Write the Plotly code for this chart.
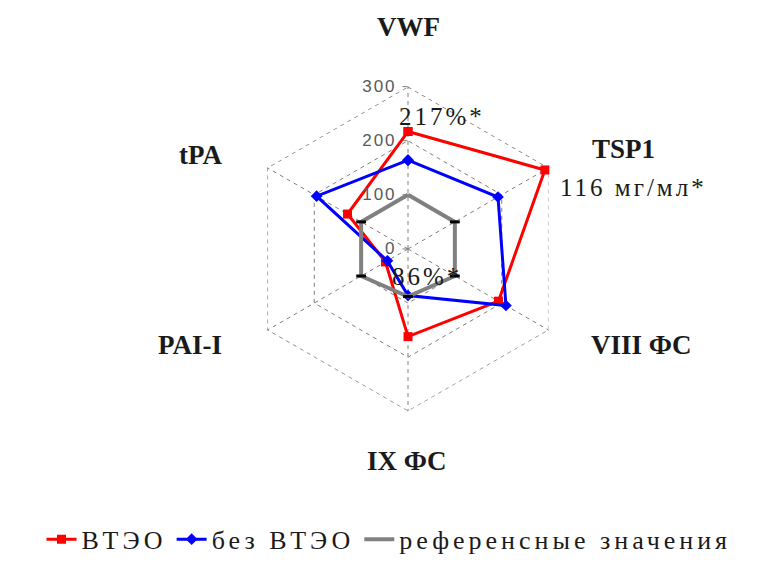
import plotly.graph_objects as go

# Axes of the radar, clockwise from the top
categories = ["VWF", "TSP1", "VIII ФС", "IX ФС", "PAI-I", "tPA"]

# Series values, % of reference
vte = [217, 292, 193, 162, 48, 129]          # ВТЭО
no_vte = [164, 192, 209, 86, 44, 195]        # без ВТЭО
reference = [100, 100, 100, 88, 100, 100]    # референсные значения

radial_ticks = [0, 100, 200, 300]
radial_ticktext = ["0", "100", "200", "300"]

W, H = 778, 563
SERIF = "Liberation Serif, Times New Roman, serif"
GRID = "#7f7f7f"


def closed(values):
    return list(values) + [values[0]]


def px(x, y):
    return x / W, 1 - y / H


def spaced(text, sp):
    return f'<span style="letter-spacing:{sp}px">{text}</span>'


theta = closed(categories)

fig = go.Figure()

# outer ring of the grid at the top of the scale
fig.add_trace(go.Scatterpolar(
    r=[radial_ticks[-1]] * (len(categories) + 1), theta=theta, mode="lines",
    line=dict(color=GRID, width=1.3, dash="4px,4px"),
    showlegend=False, hoverinfo="skip",
))

fig.add_trace(go.Scatterpolar(
    r=closed(vte), theta=theta, mode="lines+markers",
    name=spaced("ВТЭО", 4),
    line=dict(color="#FF0000", width=3),
    marker=dict(symbol="square", size=9, color="#FF0000"),
))
fig.add_trace(go.Scatterpolar(
    r=closed(no_vte), theta=theta, mode="lines+markers",
    name=spaced("без ВТЭО", 4),
    line=dict(color="#0000FF", width=3),
    marker=dict(symbol="diamond", size=9, color="#0000FF"),
))
fig.add_trace(go.Scatterpolar(
    r=closed(reference), theta=theta, mode="lines",
    name=spaced("референсные значения", 4),
    line=dict(color="#808080", width=4),
))
# error-bar caps on the reference polygon
fig.add_trace(go.Scatterpolar(
    r=reference[1:], theta=categories[1:], mode="markers",
    marker=dict(symbol="line-ew", size=7, line=dict(color="#000000", width=3)),
    showlegend=False, hoverinfo="skip",
))

R, CX, CY = 165, 408, 253
cx0, _ = px(CX - R, 0)
cx1, _ = px(CX + R, 0)
_, dy1 = px(0, CY - R)
_, dy0 = px(0, CY + R)

fig.update_layout(
    width=W, height=H,
    margin=dict(l=0, r=0, t=0, b=0),
    paper_bgcolor="white",
    plot_bgcolor="white",
    showlegend=True,
    legend=dict(
        orientation="h", x=0.5, xanchor="center", y=px(0, 548)[1], yanchor="middle",
        font=dict(family=SERIF, size=26, color="#1a1a1a"),
        itemwidth=30, tracegroupgap=0,
    ),
    polar=dict(
        domain=dict(x=[cx0, cx1], y=[dy0, dy1]),
        bgcolor="white",
        gridshape="linear",
        angularaxis=dict(
            direction="clockwise", rotation=90,
            showticklabels=False, ticks="",
            showline=False, gridcolor=GRID, griddash="4px,4px", gridwidth=1.3,
        ),
        radialaxis=dict(
            range=[0, 300], tickvals=radial_ticks,
            ticktext=[spaced(t, 2) for t in radial_ticktext],
            angle=90, tickangle=90, side="counterclockwise",
            ticks="outside", ticklen=5, tickcolor="#7f7f7f",
            tickfont=dict(family="Liberation Sans, Arial, sans-serif", size=17, color="#595959"),
            showline=False, gridcolor=GRID, griddash="4px,4px", gridwidth=1.3,
        ),
    ),
)

# category labels around the radar
label_pos = {
    "VWF": (408, 27), "TSP1": (623, 151), "VIII ФС": (641, 351),
    "IX ФС": (406, 468), "PAI-I": (190, 351), "tPA": (200, 158),
}
for name in categories:
    x, y = px(*label_pos[name])
    fig.add_annotation(
        x=x, y=y, xref="paper", yref="paper", showarrow=False,
        text=f"<b>{name}</b>", xanchor="center", yanchor="middle",
        font=dict(family=SERIF, size=27, color="#1a1a1a"),
    )

# value notes next to the points
notes = [
    (f"{vte[0]}%*", (442, 118)),
    ("116 мг/мл*", (633, 191)),
    (f"{no_vte[3]}%*", (427, 281)),
]
for text, pos in notes:
    x, y = px(*pos)
    fig.add_annotation(
        x=x, y=y, xref="paper", yref="paper", showarrow=False,
        text=spaced(text, 3), xanchor="center", yanchor="middle",
        font=dict(family=SERIF, size=25, color="#1a1a1a"),
    )

fig.write_html("out.html")
